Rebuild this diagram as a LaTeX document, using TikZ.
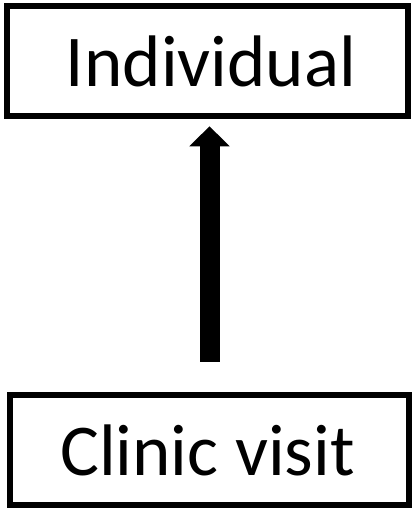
\documentclass[tikz,border=0pt]{standalone}
\usepackage{fontspec}
\setmainfont{Carlito}
\usetikzlibrary{arrows.meta}
\begin{document}
\begin{tikzpicture}[x=1pt,y=-1pt,
  box/.style={draw=black, line width=6.5pt, fill=white, inner sep=0pt,
    minimum height=110pt, font=\fontsize{73}{78}\selectfont},
  conn/.style={line width=20pt, -{Triangle[width=39pt,length=20pt]}, shorten <=30pt, shorten >=7pt}]
\useasboundingbox (0,0) rectangle (413,509);
\node[box, minimum width=401pt] (top) at (207.5,61) {\hspace*{7pt}Individual};
\node[box, minimum width=399pt] (bot) at (209.5,450) {Clinic visit\hspace*{4pt}};
\draw[conn] (bot.north) -- (bot.north |- top.south);
\end{tikzpicture}
\end{document}
